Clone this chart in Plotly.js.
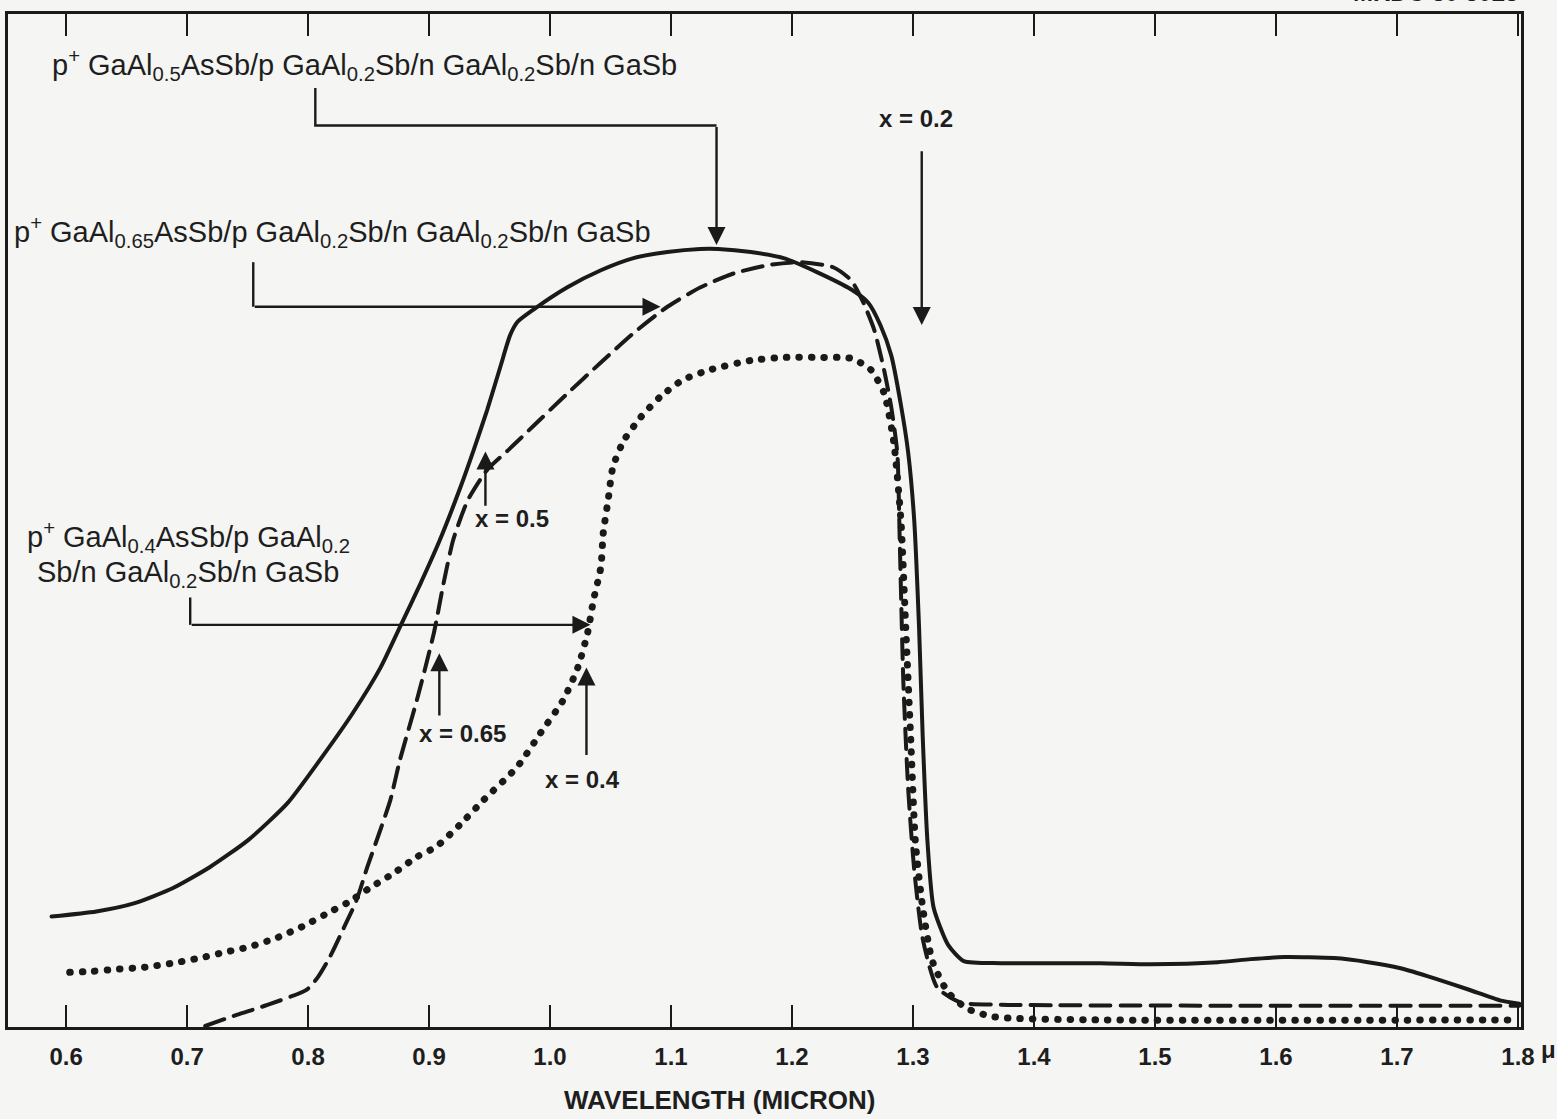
<!DOCTYPE html>
<html>
<head>
<meta charset="utf-8">
<script src="https://cdn.plot.ly/plotly-3.0.1.min.js"></script>
<style>
  html, body { margin: 0; padding: 0; background: #f5f5f3; }
  #chart { width: 1557px; height: 1119px; }
  .scatterlayer .js-line { stroke-linecap: round; }
</style>
</head>
<body>
<div id="chart"></div>
<script>
// ---- Data (wavelength in micron, relative spectral response, arbitrary units 0-100) ----
const solidWavelength = [0.588,0.625,0.656,0.688,0.719,0.751,0.783,0.810,0.837,0.860,0.876,0.893,0.909,0.926,0.937,0.948,0.959,0.967,0.973,0.986,1.014,1.042,1.069,1.097,1.124,1.139,1.166,1.193,1.221,1.249,1.263,1.273,1.282,1.290,1.296,1.301,1.305,1.308,1.312,1.317,1.329,1.342,1.373,1.455,1.497,1.552,1.579,1.607,1.648,1.676,1.703,1.731,1.759,1.786,1.801];
const solidResponse   = [10.9,11.4,12.2,13.7,15.8,18.5,22.1,26.4,31.0,35.5,39.5,43.8,48.1,53.3,57.0,60.9,65.2,68.3,69.6,70.8,73.0,74.7,75.9,76.5,76.8,76.8,76.5,75.9,74.5,72.8,71.5,69.3,66.3,61.4,56.7,50.0,39.4,28.7,18.2,11.8,8.1,6.5,6.3,6.3,6.2,6.4,6.7,6.9,6.8,6.4,5.8,4.8,3.7,2.6,2.3];

const dashedWavelength = [0.715,0.741,0.767,0.799,0.808,0.818,0.830,0.840,0.849,0.859,0.868,0.876,0.890,0.904,0.912,0.920,0.932,0.948,0.965,0.986,1.014,1.042,1.069,1.097,1.124,1.152,1.180,1.207,1.234,1.249,1.259,1.268,1.276,1.282,1.287,1.289,1.292,1.296,1.301,1.308,1.320,1.340,1.373,1.801];
const dashedResponse   = [0.1,1.2,2.2,3.7,4.9,6.9,9.9,12.5,15.8,19.2,22.4,26.4,32.3,38.9,43.8,48.1,52.0,55.0,56.9,59.3,62.5,65.6,68.5,71.1,73.0,74.4,75.2,75.5,75.0,73.7,71.5,68.8,64.9,61.2,56.7,48.1,34.1,23.5,15.5,8.7,3.9,2.4,2.2,2.1];

const dottedWavelength = [0.603,0.622,0.641,0.665,0.688,0.710,0.732,0.751,0.774,0.795,0.814,0.833,0.852,0.871,0.890,0.906,0.925,0.945,0.973,0.992,1.011,1.023,1.031,1.036,1.042,1.044,1.048,1.052,1.061,1.075,1.091,1.110,1.133,1.166,1.193,1.221,1.249,1.265,1.276,1.284,1.290,1.294,1.298,1.302,1.308,1.316,1.329,1.345,1.367,1.455,1.801];
const dottedResponse   = [5.4,5.5,5.7,5.9,6.3,6.8,7.4,7.9,8.8,9.9,11.1,12.3,13.8,15.2,16.8,17.8,19.9,22.4,25.7,29.0,32.3,35.5,38.9,42.2,45.4,48.8,52.0,55.3,57.9,60.2,62.2,63.9,64.9,65.8,66.1,66.1,66.0,64.9,62.6,57.8,50.0,39.4,28.7,18.2,11.8,6.5,3.4,1.8,1.0,0.7,0.7];

const tickValues = [0.6,0.7,0.8,0.9,1.0,1.1,1.2,1.3,1.4,1.5,1.6,1.7,1.8];
const tickLabels = ['0.6','0.7','0.8','0.9','1.0','1.1','1.2','1.3','1.4','1.5','1.6','1.7','1.8'];

const labelX05  = 'p<sup>+</sup> GaAl<sub>0.5</sub>AsSb/p GaAl<sub>0.2</sub>Sb/n GaAl<sub>0.2</sub>Sb/n GaSb';
const labelX065 = 'p<sup>+</sup> GaAl<sub>0.65</sub>AsSb/p GaAl<sub>0.2</sub>Sb/n GaAl<sub>0.2</sub>Sb/n GaSb';
const labelX04a = 'p<sup>+</sup> GaAl<sub>0.4</sub>AsSb/p GaAl<sub>0.2</sub>';
const labelX04b = 'Sb/n GaAl<sub>0.2</sub>Sb/n GaSb';
const xAxisTitle = 'WAVELENGTH (MICRON)';
const figureId = 'MRDC 80 3028';

// ---- Styling ----
const INK = '#1a1a1a';
const FONT = '"Liberation Sans Narrow", "Liberation Sans", Arial, sans-serif';
const BG = '#f5f5f3';

const traces = [
  {x: solidWavelength, y: solidResponse, mode: 'lines', name: 'x = 0.5',
   line: {color: INK, width: 4, shape: 'spline', smoothing: 0.6}},
  {x: dashedWavelength, y: dashedResponse, mode: 'lines', name: 'x = 0.65',
   line: {color: INK, width: 4, dash: '20px,10px', shape: 'spline', smoothing: 0.6}},
  {x: dottedWavelength, y: dottedResponse, mode: 'lines', name: 'x = 0.4',
   line: {color: INK, width: 7, dash: '0.5px,12px', shape: 'spline', smoothing: 0.6}}
];

function arrow(xTip, yTip, xTail, yTail) {
  return {x: xTip, y: yTip, ax: xTail, ay: yTail, xref: 'x', yref: 'y', axref: 'x', ayref: 'y',
          text: '', showarrow: true, arrowhead: 2, arrowsize: 1.5, arrowwidth: 2.4, arrowcolor: INK, standoff: 0};
}
function label(x, y, text, size, bold, anchor) {
  return {x: x, y: y, xref: 'x', yref: 'y', text: bold ? '<b>' + text + '</b>' : text, showarrow: false,
          xanchor: anchor || 'left', yanchor: 'middle', font: {family: FONT, size: size, color: '#1e1e1e'}};
}

const annotations = [
  label(0.5868, 95.0, labelX05, 29, false),
  label(0.5553, 78.5, labelX065, 29, false),
  label(0.5661, 48.4, labelX04a, 29, false),
  label(0.5744, 44.7, labelX04b, 29, false),
  label(1.3022, 89.7, 'x = 0.2', 24, true, 'center'),
  label(0.9366, 50.2, 'x = 0.5', 24, true),
  label(0.8903, 29.0, 'x = 0.65', 24, true),
  label(0.9945, 24.4, 'x = 0.4', 24, true),
  arrow(1.1376, 77.2, 1.1376, 89.0),
  arrow(1.0913, 71.1, 0.7547, 71.1),
  arrow(1.0334, 39.7, 0.7026, 39.7),
  arrow(1.3072, 69.3, 1.3072, 86.6),
  arrow(0.9466, 56.8, 0.9466, 51.3),
  arrow(0.9085, 36.9, 0.9085, 30.6),
  arrow(1.0301, 35.5, 1.0301, 26.7),
  {x: 0.4706, y: -0.072, xref: 'paper', yref: 'paper', text: '<b>' + xAxisTitle + '</b>', showarrow: false,
   xanchor: 'center', yanchor: 'middle', font: {family: FONT, size: 26, color: '#1e1e1e'}},
  {x: 1.0185, y: -0.0227, xref: 'paper', yref: 'paper', text: '<b>μ</b>', showarrow: false,
   xanchor: 'center', yanchor: 'middle', font: {family: FONT, size: 24, color: '#1e1e1e'}},
  {x: 0.9995, y: 1.0215, xref: 'paper', yref: 'paper', text: '<b>' + figureId + '</b>', showarrow: false,
   xanchor: 'right', yanchor: 'middle', font: {family: FONT, size: 24, color: '#1e1e1e'}}
];

const shapes = [
  {type: 'path', xref: 'x', yref: 'y', path: 'M 0.8060 92.7 L 0.8060 89.0 L 1.1376 89.0', line: {color: INK, width: 2.4}},
  {type: 'path', xref: 'x', yref: 'y', path: 'M 0.7547 75.5 L 0.7547 71.1', line: {color: INK, width: 2.4}},
  {type: 'path', xref: 'x', yref: 'y', path: 'M 0.7026 42.4 L 0.7026 39.7', line: {color: INK, width: 2.4}}
];

const layout = {
  width: 1557, height: 1119,
  margin: {l: 8, r: 36, t: 14, b: 92},
  paper_bgcolor: BG, plot_bgcolor: BG,
  showlegend: false,
  xaxis: {
    range: [0.552, 1.8025], showline: true, linewidth: 3, linecolor: INK, mirror: 'allticks',
    ticks: 'inside', ticklen: 22, tickwidth: 2.5, tickcolor: INK,
    tickmode: 'array', tickvals: tickValues, ticktext: tickLabels,
    tickfont: {family: FONT, size: 24, color: '#1e1e1e', weight: 'bold'},
    ticklabelstandoff: 6, showgrid: false, zeroline: false
  },
  yaxis: {
    range: [0, 100], showline: true, linewidth: 3, linecolor: INK, mirror: true,
    ticks: '', showticklabels: false, showgrid: false, zeroline: false
  },
  annotations: annotations,
  shapes: shapes
};

Plotly.newPlot('chart', traces, layout, {staticPlot: true, displayModeBar: false});
</script>
</body>
</html>
